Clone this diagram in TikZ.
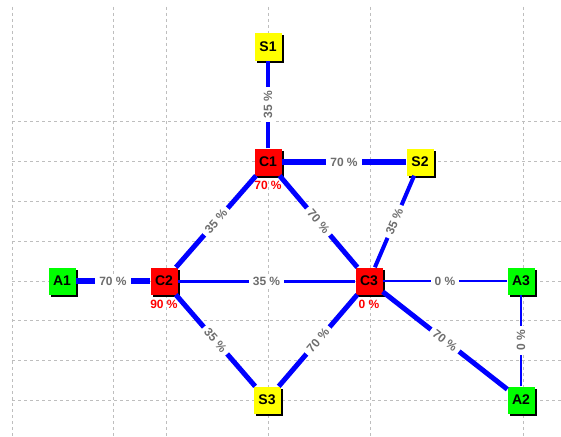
\documentclass[tikz,border=0pt]{standalone}
\usepackage{fontspec}
\setmainfont{Liberation Sans}
\usetikzlibrary{shadows}
\definecolor{edgeblue}{RGB}{0,0,255}
\definecolor{lblgray}{RGB}{110,110,110}
\definecolor{gridgray}{RGB}{190,190,190}
\definecolor{nodered}{RGB}{255,0,0}
\definecolor{nodegreen}{RGB}{0,255,0}
\definecolor{nodeyellow}{RGB}{255,255,0}
\begin{document}
\begin{tikzpicture}[x=1pt,y=-1pt,
  gridline/.style={draw=gridgray,line width=1pt,dash pattern=on 3pt off 3pt},
  box/.style={draw=none,minimum width=27pt,minimum height=27pt,inner sep=0pt,
    font=\fontsize{14}{16}\selectfont\bfseries,
    drop shadow={shadow xshift=2pt,shadow yshift=-2pt,fill=black,opacity=1}},
  cnode/.style={box,fill=nodered},
  snode/.style={box,fill=nodeyellow},
  anode/.style={box,fill=nodegreen},
  link/.style={draw=edgeblue},
  lbl/.style={fill=white,text=lblgray,inner xsep=4pt,inner ysep=1.5pt,
    font=\fontsize{12}{14}\selectfont\bfseries},
  pct/.style={text=nodered,inner sep=0pt,font=\fontsize{12}{14}\selectfont\bfseries}
]
\useasboundingbox[fill=white] (0,0) rectangle (561,436);
% grid
\foreach \gx in {12,113,166,268,370,523}
  \draw[gridline] (\gx,7) -- (\gx,436);
\foreach \gy in {121,161,201,241,281,320,360,400}
  \draw[gridline] (12,\gy) -- (561,\gy);
% nodes
\node[snode] (S1) at (268,47) {S1};
\node[cnode] (C1) at (268,162) {C1};
\node[snode] (S2) at (420,162) {S2};
\node[anode] (A1) at (62,281) {A1};
\node[cnode] (C2) at (164,281) {C2};
\node[cnode] (C3) at (369,281) {C3};
\node[anode] (A3) at (521,281) {A3};
\node[snode] (S3) at (267,400) {S3};
\node[anode] (A2) at (521,400) {A2};
% percentages below nodes
\node[pct,below=5pt] (pC1) at (C1.south) {70 \%};
\node[pct,below=5pt] (pC2) at (C2.south) {90 \%};
\node[pct,below=5pt] (pC3) at (C3.south) {0 \%};
% edges
\draw[link,line width=4pt] (C1) -- node[lbl,rotate=90] (e1) {35 \%} (S1);
\draw[link,line width=6pt] (C1) -- node[lbl] (e2) {70 \%} (S2);
\draw[link,line width=5pt] (C2) -- node[lbl,sloped] (e3) {35 \%} (C1);
\draw[link,line width=5pt] (C1) -- node[lbl,sloped] (e4) {70 \%} (C3);
\draw[link,line width=4pt] (C3) -- node[lbl,sloped] (e5) {35 \%} (S2);
\draw[link,line width=3pt] (C2) -- node[lbl] (e6) {35 \%} (C3);
\draw[link,line width=6pt] (A1) -- node[lbl] (e7) {70 \%} (C2);
\draw[link,line width=2pt] (C3) -- node[lbl] (e8) {0 \%} (A3);
\draw[link,line width=5pt] (C3) -- node[lbl,sloped] (e9) {70 \%} (A2);
\draw[link,line width=2pt] (A2) -- node[lbl,rotate=90] (e10) {0 \%} (A3);
\draw[link,line width=5pt] (C2) -- node[lbl,sloped] (e11) {35 \%} (S3);
\draw[link,line width=5pt] (S3) -- node[lbl,sloped] (e12) {70 \%} (C3);
\end{tikzpicture}
\end{document}
